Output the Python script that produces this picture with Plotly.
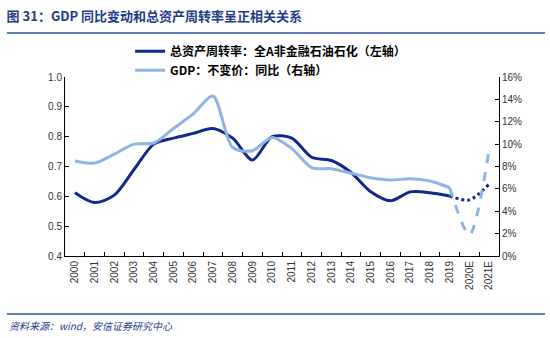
import plotly.graph_objects as go

years = ["2000", "2001", "2002", "2003", "2004", "2005", "2006", "2007", "2008", "2009",
         "2010", "2011", "2012", "2013", "2014", "2015", "2016", "2017", "2018", "2019",
         "2020E", "2021E"]
turnover = [0.612, 0.579, 0.604, 0.690, 0.775, 0.795, 0.811, 0.827, 0.795, 0.722,
            0.800, 0.795, 0.731, 0.720, 0.680, 0.615, 0.585, 0.615, 0.612, 0.601,
            0.588, 0.641]
gdp = [8.5, 8.3, 9.1, 10.0, 10.1, 11.4, 12.7, 14.3, 9.7, 9.4,
       10.6, 9.6, 7.9, 7.8, 7.4, 7.0, 6.8, 6.9, 6.7, 6.1,
       1.9, 9.5]

name_turn = "<b>总资产周转率：全A非金融石油石化（左轴）</b>"
name_gdp = "<b>GDP：不变价：同比（右轴）</b>"

dark = "#12288c"
light = "#8fb4e1"
split = 19  # index of last actual year

fig = go.Figure()
fig.add_trace(go.Scatter(x=years[:split + 1], y=turnover[:split + 1], name=name_turn,
                         mode="lines", line=dict(color=dark, width=3, shape="spline", smoothing=0.8),
                         yaxis="y"))
fig.add_trace(go.Scatter(x=years[split:], y=turnover[split:], name=name_turn, showlegend=False,
                         mode="lines", line=dict(color=dark, width=3, dash="dot", shape="spline", smoothing=0.8),
                         yaxis="y"))
fig.add_trace(go.Scatter(x=years[:split + 1], y=gdp[:split + 1], name=name_gdp,
                         mode="lines", line=dict(color=light, width=3, shape="spline", smoothing=0.8),
                         yaxis="y2"))
fig.add_trace(go.Scatter(x=years[split:], y=gdp[split:], name=name_gdp, showlegend=False,
                         mode="lines", line=dict(color=light, width=3, dash="dash", shape="spline", smoothing=0.8),
                         yaxis="y2"))

axis_font = dict(family="Liberation Sans, Arial, sans-serif", size=10, color="#333333")

fig.update_layout(
    width=550, height=338,
    margin=dict(l=65, r=51, t=77, b=82),
    paper_bgcolor="white", plot_bgcolor="white",
    title=dict(text="<b>图 31：GDP 同比变动和总资产周转率呈正相关关系</b>",
               xref="container", yref="container", x=0.012, xanchor="left", y=0.95, yanchor="middle",
               font=dict(family="Noto Sans CJK SC", size=13, color="#1f3c88")),
    xaxis=dict(type="category", categoryorder="array", categoryarray=years,
               range=[-0.5, len(years) - 0.5],
               showline=True, linecolor="#000000", linewidth=1,
               ticks="inside", ticklen=4, tickcolor="#000000", tickson="boundaries",
               tickangle=-90, tickfont=axis_font, showgrid=False, zeroline=False),
    yaxis=dict(range=[0.4, 1.0], dtick=0.1, tickformat=".1f",
               showline=True, linecolor="#000000", linewidth=1,
               ticks="inside", ticklen=4, tickcolor="#000000",
               tickfont=axis_font, showgrid=False, zeroline=False),
    yaxis2=dict(range=[0, 16], dtick=2, ticksuffix="%", overlaying="y", side="right",
                showline=True, linecolor="#000000", linewidth=1,
                ticks="inside", ticklen=4, tickcolor="#000000",
                tickfont=axis_font, showgrid=False, zeroline=False),
    legend=dict(x=0.15, y=1.225, xanchor="left", yanchor="top",
                bgcolor="rgba(0,0,0,0)",
                font=dict(family="Noto Sans CJK SC", size=12, color="#000000"),
                itemwidth=30, tracegroupgap=2),
    showlegend=True,
)

fig.add_shape(type="line", xref="paper", yref="paper", x0=-0.134, x1=1.106, y0=1.2458, y1=1.2458,
              line=dict(color="#2e56a6", width=1.5))
fig.add_shape(type="line", xref="paper", yref="paper", x0=-0.134, x1=1.106, y0=-0.324, y1=-0.324,
              line=dict(color="#2e56a6", width=1.5))
fig.add_annotation(text="<i>资料来源：wind，安信证券研究中心</i>", xref="paper", yref="paper",
                   x=-0.134, y=-0.391, xanchor="left", yanchor="middle", showarrow=False,
                   font=dict(family="Noto Sans CJK SC", size=10, color="#1f3c88"))

fig.write_html("out.html")
